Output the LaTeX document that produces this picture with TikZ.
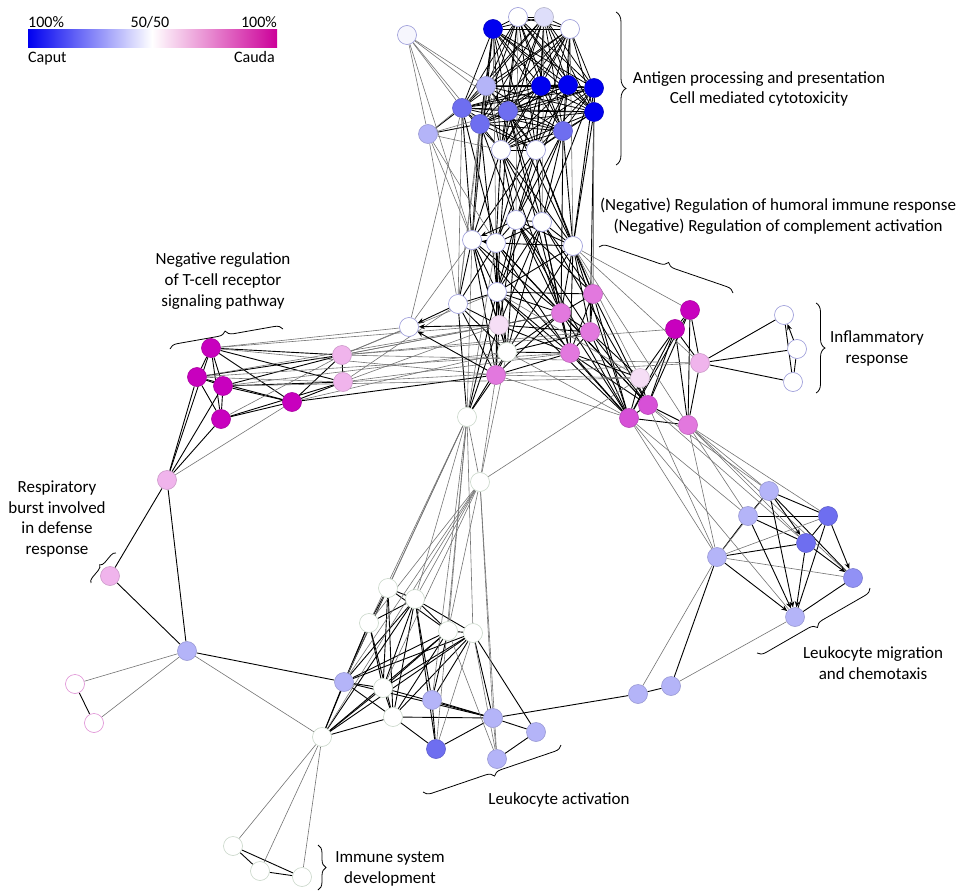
\documentclass[tikz,border=0pt]{standalone}
\usepackage{fontspec}
\setmainfont{Carlito}
\usetikzlibrary{backgrounds,decorations.pathreplacing,arrows.meta}
\definecolor{cblue}{RGB}{0,0,240}
\definecolor{cmid}{RGB}{110,110,240}
\definecolor{cmid2}{RGB}{145,145,245}
\definecolor{clight}{RGB}{180,180,248}
\definecolor{clav}{RGB}{222,222,250}
\definecolor{cwhite}{RGB}{246,246,253}
\definecolor{cmag}{RGB}{200,0,190}
\definecolor{cpink}{RGB}{226,120,222}
\definecolor{cpm}{RGB}{215,80,215}
\definecolor{clpink}{RGB}{240,180,236}
\definecolor{cvlpink}{RGB}{246,222,246}
\definecolor{outw}{RGB}{150,150,215}
\definecolor{outg}{RGB}{200,214,200}
\definecolor{outp}{RGB}{222,140,212}
\definecolor{legmag}{RGB}{204,0,153}
\tikzset{
  nd/.style={circle,minimum size=19pt,inner sep=0pt,line width=0.6pt},
  wn/.style={nd,fill=white,draw=outw},
  gn/.style={nd,fill=white,draw=outg},
  bn/.style={nd,fill=cblue,draw=cblue!80!black},
  mn/.style={nd,fill=cmid,draw=cmid!85!black},
  m2n/.style={nd,fill=cmid2,draw=cmid2!85!black},
  ln/.style={nd,fill=clight,draw=clight!85!black},
  vn/.style={nd,fill=clav,draw=clav!80!black},
  gm/.style={nd,fill=cmag,draw=cmag!85!black},
  pn/.style={nd,fill=cpink,draw=cpink!85!black},
  pmn/.style={nd,fill=cpm,draw=cpm!85!black},
  lpn/.style={nd,fill=clpink,draw=clpink!85!black},
  vpn/.style={nd,fill=cvlpink,draw=cvlpink!85!black},
  ek/.style={black,line width=0.9pt},
  eg/.style={black!55,line width=0.6pt},
  ea/.style={ek,-{Stealth[length=6pt,width=5pt]}},
  lbl/.style={font=\fontsize{17}{20.8}\selectfont,align=center,inner sep=0pt},
  lgl/.style={font=\fontsize{16}{19}\selectfont,inner sep=0pt},
  brc/.style={decorate,decoration={brace,amplitude=#1},line width=0.8pt},
}
\begin{document}
\begin{tikzpicture}[x=1pt,y=-1pt]
\useasboundingbox (0,0) rectangle (970,891);
% legend
\shade[left color=cblue,right color=white] (28,30) rectangle (152,48);
\shade[left color=white,right color=legmag] (152,30) rectangle (277,48);
\node[lgl,anchor=base west] (lg1) at (28,28) {100\%};
\node[lgl,anchor=base] (lg2) at (150,28) {50/50};
\node[lgl,anchor=base east] (lg3) at (277,28) {100\%};
\node[lgl,anchor=base west] (lg4) at (28,63) {Caput};
\node[lgl,anchor=base east] (lg5) at (275,63) {Cauda};
% top cluster
\node[wn,fill=cwhite] (t1) at (407,35) {};
\node[bn] (t2) at (493,29) {};
\node[wn] (t3) at (518,17) {};
\node[vn] (t4) at (544,17) {};
\node[wn] (t5) at (570,29) {};
\node[ln] (t6) at (486,86) {};
\node[bn] (t7) at (541,86) {};
\node[bn] (t8) at (568,85) {};
\node[bn] (t9) at (594,88) {};
\node[mn] (t10) at (462,108) {};
\node[mn] (t11) at (508,111) {};
\node[bn] (t12) at (594,112) {};
\node[mn] (t13) at (480,124) {};
\node[mn] (t14) at (563,131) {};
\node[ln] (t15) at (428,134) {};
\node[wn] (t16) at (501,150) {};
\node[wn] (t17) at (536,150) {};
% middle
\node[wn] (m1) at (516,220) {};
\node[wn] (m2) at (542,222) {};
\node[wn] (m3) at (472,240) {};
\node[wn] (m4) at (496,243) {};
\node[wn] (m5) at (573,246) {};
\node[wn] (m6) at (497,292) {};
\node[wn] (m7) at (458,304) {};
\node[pn] (p1) at (593,294) {};
\node[pn] (p2) at (561,313) {};
\node[gm] (g1) at (690,310) {};
\node[gm] (g2) at (675,329) {};
\node[wn] (m8) at (409,327) {};
\node[vpn] (q1) at (499,325) {};
\node[pn] (p3) at (590,332) {};
\node[gn] (m9) at (507,352) {};
\node[pn] (p4) at (570,353) {};
\node[lpn] (q2) at (700,363) {};
\node[pn] (p5) at (496,375) {};
\node[vpn] (q3) at (640,378) {};
\node[pmn] (p6) at (648,405) {};
\node[gn] (m10) at (467,417) {};
\node[pmn] (p7) at (629,418) {};
\node[pn] (p8) at (688,425) {};
% left cluster
\node[gm] (l1) at (211,348) {};
\node[gm] (l2) at (197,377) {};
\node[gm] (l3) at (223,386) {};
\node[gm] (l4) at (221,419) {};
\node[gm] (l5) at (292,402) {};
\node[lpn] (l6) at (342,355) {};
\node[lpn] (l7) at (343,382) {};
\node[lpn] (l8) at (167,480) {};
% inflammatory
\node[wn] (i1) at (784,315) {};
\node[wn] (i2) at (797,349) {};
\node[wn] (i3) at (793,382) {};
% right cluster
\node[ln] (r1) at (769,491) {};
\node[ln] (r2) at (748,516) {};
\node[mn] (r3) at (828,516) {};
\node[mn] (r4) at (806,543) {};
\node[ln] (r5) at (717,557) {};
\node[m2n] (r6) at (853,578) {};
\node[ln] (r7) at (795,617) {};
% others
\node[gn] (w1) at (480,482) {};
\node[lpn] (f1) at (110,576) {};
\node[ln] (f2) at (187,651) {};
\node[nd,fill=white,draw=outp] (f3) at (75,684) {};
\node[nd,fill=white,draw=outp] (f4) at (94,723) {};
% bottom cluster
\node[gn] (b1) at (388,588) {};
\node[gn] (b2) at (415,599) {};
\node[gn] (b3) at (369,623) {};
\node[gn] (b4) at (448,631) {};
\node[gn] (b5) at (473,633) {};
\node[ln] (b6) at (344,682) {};
\node[gn] (b7) at (383,688) {};
\node[ln] (b8) at (432,700) {};
\node[gn] (b9) at (393,717) {};
\node[ln] (b10) at (493,718) {};
\node[ln] (b11) at (536,732) {};
\node[gn] (b12) at (322,737) {};
\node[mn] (b13) at (436,749) {};
\node[ln] (b14) at (497,759) {};
\node[ln] (c1) at (638,694) {};
\node[ln] (c2) at (671,686) {};
\node[gn] (d1) at (233,846) {};
\node[gn] (d2) at (260,871) {};
\node[gn] (d3) at (302,877) {};
% labels
\node[lbl] (L1) at (759,89) {Antigen processing and presentation\\Cell mediated cytotoxicity};
\node[lbl] (L2) at (778,216.5) {(Negative) Regulation of humoral immune response\\(Negative) Regulation of complement activation};
\node[lbl] (L3) at (877,348.5) {Inflammatory\\response};
\node[lbl] (L4) at (223,281) {Negative regulation\\of T-cell receptor\\signaling pathway};
\node[lbl] (L5) at (57,519) {Respiratory\\burst involved\\in defense\\response};
\node[lbl] (L6) at (873,663) {Leukocyte migration\\and chemotaxis};
\node[lbl] (L7) at (559,800) {Leukocyte activation};
\node[lbl] (L8) at (390,869) {Immune system\\development};
% braces
\coordinate (B1a) at (616,12); \coordinate (B1b) at (616,165);
\draw[brc=10pt] (B1a) -- (B1b);
\coordinate (B2a) at (599,247); \coordinate (B2b) at (733,293);
\draw[brc=8pt] (B2a) -- (B2b);
\coordinate (B3a) at (816,303); \coordinate (B3b) at (816,393);
\draw[brc=9pt] (B3a) -- (B3b);
\coordinate (B4a) at (170,349); \coordinate (B4b) at (283,329);
\draw[brc=8pt] (B4a) -- (B4b);
\coordinate (B5a) at (91,583); \coordinate (B5b) at (116,553);
\draw[brc=5pt] (B5a) -- (B5b);
\coordinate (B6a) at (870,588); \coordinate (B6b) at (757,653);
\draw[brc=8pt] (B6a) -- (B6b);
\coordinate (B7a) at (561,745); \coordinate (B7b) at (423,792);
\draw[brc=8pt] (B7a) -- (B7b);
\coordinate (B8a) at (318,845); \coordinate (B8b) at (318,890);
\draw[brc=8pt] (B8a) -- (B8b);
% edges
\begin{pgfonlayer}{background}
\def\topset{t2,t3,t4,t5,t6,t7,t8,t9,t10,t11,t12,t13,t14,t16,t17}
\foreach \a [count=\i] in \topset {
  \foreach \b [count=\j] in \topset {
    \ifnum\j>\i \draw[ek,line width=0.8pt] (\a)--(\b); \fi
  }
}
\def\leftset{l1,l2,l3,l4,l5}
\foreach \a [count=\i] in \leftset {
  \foreach \b [count=\j] in \leftset {
    \ifnum\j>\i \draw[ek] (\a)--(\b); \fi
  }
}
\foreach \a/\b in {t15/t10,t15/t13,
  t16/m1,t16/m2,t16/m3,t16/m4,t16/m5,t17/m1,t17/m2,t17/m4,t17/m5,t17/m3,
  t10/m3,t10/m4,t13/m1,t13/m3,t11/m2,t11/m5,t14/m1,t14/m2,t14/m5,t12/m5,
  t9/m5,t14/m6,t11/m6,t7/m4,t8/m1,t2/m3,t9/m2,t16/p2,t17/p1,t14/p2,t12/p3,
  t11/p4,t13/m6,
  m1/m2,m1/m4,m1/m5,m1/m6,m1/q1,m1/p2,m1/p1,m1/p3,m1/m9,
  m2/m4,m2/m5,m2/m6,m2/p1,m2/p2,m2/p4,m2/q1,m2/m9,
  m3/m4,m3/m6,m3/m7,m3/q1,m3/m9,m3/p5,m3/p2,
  m4/m6,m4/q1,m4/p2,m4/p5,m4/m7,m4/m9,m4/p4,m4/m5,
  m5/p1,m5/p2,m5/p3,m5/p4,m5/m6,m5/m9,
  m6/q1,m6/m9,m6/p2,m6/p1,m6/p5,m6/m7,m6/p4,
  m7/q1,m7/m9,m7/p5,m7/m10,
  q1/m9,q1/p5,q1/p2,q1/p3,q1/p4,
  m9/p5,m9/p2,m9/p4,m9/p3,m9/m10,
  p5/m10,p5/p4,p5/p2,
  p1/p2,p1/p3,p1/p4,p1/p7,p1/p6,
  p2/p3,p2/p4,p2/p7,p2/p6,
  p3/p4,p3/p7,p3/p6,p3/q3,
  p4/p7,p4/p6,p4/q3,
  q3/p6,q3/p7,q3/g2,
  p6/p7,p6/g2,p6/g1,p6/p8,
  p7/p8,p7/g2,p7/g1,
  g1/g2,g1/q2,g1/p8,g2/q2,g2/p8,q2/p8,
  q2/i1,q2/i2,q2/i3,i1/i3,i2/i3,
  m5/p7,m1/p7,m2/p6,m3/p7,m4/p6,m6/p7,
  l6/l7,l1/l6,l1/l7,l2/l6,l3/l6,l3/l7,l5/l6,l5/l7,l4/l7,l5/p5,
  l8/l1,l8/l2,l8/l3,l8/l4,l8/f1,l8/f2,f1/f2,f3/f4,f2/b6,
  m10/m6,m10/q1,
  b1/b2,b1/b3,b1/b7,b1/b9,b1/b6,b1/b4,
  b2/b3,b2/b4,b2/b5,b2/b6,b2/b7,b2/b9,b2/b8,b2/b12,b2/b13,
  b3/b6,b3/b7,b3/b9,b3/b12,
  b4/b5,b4/b6,b4/b9,b4/b12,b4/b7,b4/b8,
  b5/b6,b5/b7,b5/b9,b5/b8,b5/b10,b5/b11,b5/b12,
  b6/b7,b6/b9,b6/b12,b6/b10,
  b7/b9,b7/b12,b7/b10,b9/b12,b9/b10,b9/b13,b8/b13,b8/b10,
  b10/b13,b10/b11,b11/b14,b10/c1,c1/c2,c2/r5,d1/d2,d1/d3,d2/d3,
  r1/r2,r1/r3,r1/r6,r2/r3,r2/r4,r2/r5,r3/r4,r3/r7,r6/r7,r5/r4}
  \draw[ek] (\a)--(\b);
\foreach \a/\b in {t1/t6,t1/t10,t1/t15,t1/t13,t1/t11,t15/t6,t15/t16,t15/t11,
  t10/m7,t13/m7,t6/m7,t15/m7,t15/m3,t15/m4,t1/m3,t5/m5,t2/m4,t10/m8,
  t12/p1,t9/p1,t6/m3,t4/m2,t3/m1,
  m5/q3,m5/g1,m5/p8,m5/q2,p5/p7,p5/q3,m9/p7,m6/q3,
  m10/m3,m10/m4,m8/m3,
  l1/m8,l2/q1,l3/m9,l6/m8,l6/q1,l6/m6,l6/p3,l6/p2,l7/m7,l7/q1,l7/p4,
  l7/q2,l6/q2,l6/g2,l2/l7,l4/l6,l1/q1,l3/q3,l5/m9,l8/l5,l1/p5,l2/p4,
  f2/f3,f2/f4,f2/b12,w1/m10,w1/m9,w1/p5,w1/q3,
  m10/b1,m10/b2,m10/b3,m10/b4,m10/b5,m10/b6,m10/b8,m10/b13,
  w1/b2,w1/b3,w1/b4,w1/b6,w1/b7,w1/b12,w1/b10,w1/b14,
  b12/d1,b12/d2,b12/d3,b5/b13,b5/b14,b4/b14,b10/b14,
  p8/r1,p8/r2,p8/r3,p8/r5,p7/r2,p7/r5,p6/r4,p6/r1,p7/r7,p8/r4,p6/r5,
  p8/r6,c1/r5,c2/r7,r3/r5,r5/r6,r1/r5}
  \draw[eg] (\a)--(\b);
\foreach \a/\b in {q1/m8,m7/m8,p5/m8,m4/m3,m1/m3,i2/i1,
  r1/r7,r2/r7,r3/r6,r4/r6,r1/r4,r5/r7,r4/r7}
  \draw[ea] (\a)--(\b);
\end{pgfonlayer}
\end{tikzpicture}
\end{document}
